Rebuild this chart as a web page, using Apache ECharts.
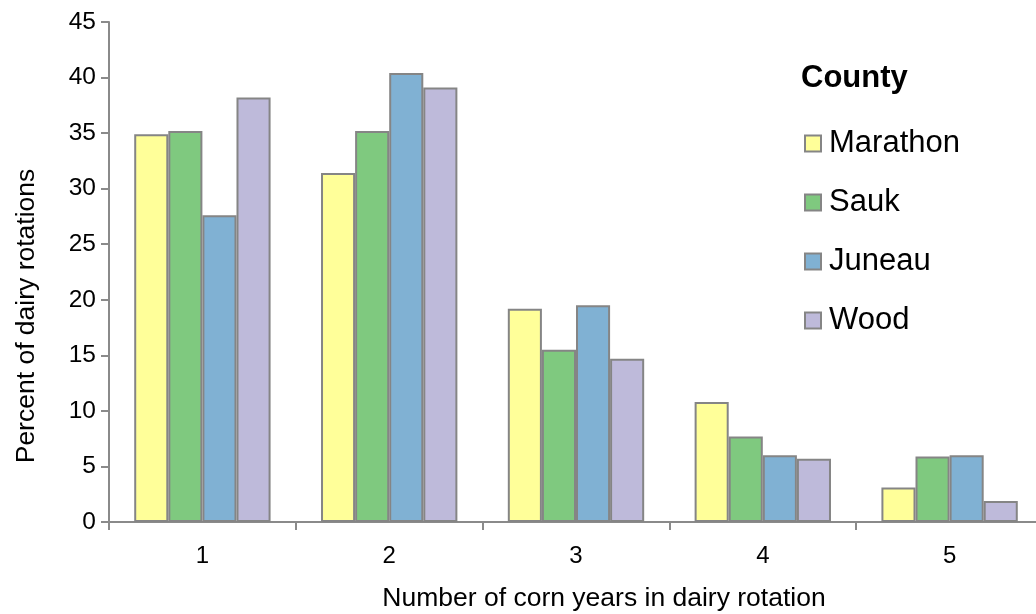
<!DOCTYPE html>
<html>
<head>
<meta charset="utf-8">
<title>Corn years in dairy rotation</title>
<script src="https://cdn.jsdelivr.net/npm/echarts@6/dist/echarts.min.js"></script>
<style>
  html, body { margin: 0; padding: 0; background: #fff; }
  #main { width: 1036px; height: 614px; }
</style>
</head>
<body>
<div id="main"></div>
<script>
// data
var cornYears = ['1', '2', '3', '4', '5'];
var counties = ['Marathon', 'Sauk', 'Juneau', 'Wood'];
var marathon = [34.9, 31.4, 19.2, 10.8, 3.1];
var sauk     = [35.2, 35.2, 15.5, 7.7, 5.9];
var juneau   = [27.6, 40.4, 19.5, 6.0, 6.0];
var wood     = [38.2, 39.1, 14.7, 5.7, 1.9];
var yTicks   = { min: 0, max: 45, interval: 5 };

var colors = ['#FFFF99', '#7FC97F', '#80B1D3', '#BEBADA'];
var values = [marathon, sauk, juneau, wood];
var font = 'Liberation Sans, Arial, sans-serif';

var seriesList = [];
for (var i = 0; i < counties.length; i++) {
	seriesList.push({
		name: counties[i],
		type: 'bar',
		barGap: '0%',
		barCategoryGap: '27%',
		data: values[i],
		itemStyle: {
			color: colors[i],
			borderColor: '#858585',
			borderWidth: 2
		}
	});
}

var option = {
	animation: false,
	textStyle: { fontFamily: font },
	title: {
		text: 'County',
		left: 801,
		top: 63,
		padding: 0,
		textStyle: { fontFamily: font, fontSize: 31, fontWeight: 'bold', color: '#000' }
	},
	legend: {
		orient: 'vertical',
		left: 804,
		top: 128,
		padding: 0,
		itemWidth: 16,
		itemHeight: 16,
		itemGap: 28,
		icon: 'rect',
		data: counties,
		textStyle: { fontFamily: font, fontSize: 31, lineHeight: 31, color: '#000', padding: [0, 0, 0, 3] }
	},
	// the plot runs a little past the right edge, as in the picture
	grid: { left: 109, top: 22, width: 934, height: 500, containLabel: false, outerBoundsMode: 'none' },
	xAxis: {
		type: 'category',
		data: cornYears,
		name: 'Number of corn years in dairy rotation',
		nameLocation: 'middle',
		nameGap: 63,
		// title sits right of the axis middle in the picture
		nameTextStyle: { fontFamily: font, fontSize: 26.5, color: '#000', padding: [0, 0, 0, 56] },
		axisLine: { lineStyle: { color: '#8a8a8a', width: 2 } },
		axisTick: { show: true, length: 8, lineStyle: { color: '#8a8a8a', width: 2 } },
		axisLabel: { fontFamily: font, fontSize: 24, color: '#000', margin: 22 }
	},
	yAxis: {
		type: 'value',
		min: yTicks.min,
		max: yTicks.max,
		interval: yTicks.interval,
		name: 'Percent of dairy rotations',
		nameLocation: 'middle',
		nameGap: 69,
		// and this one sits below the middle
		nameTextStyle: { fontFamily: font, fontSize: 26.5, color: '#000', padding: [0, 88, 0, 0] },
		splitLine: { show: false },
		axisLine: { show: true, lineStyle: { color: '#8a8a8a', width: 2 } },
		axisTick: { show: true, length: 8, lineStyle: { color: '#8a8a8a', width: 2 } },
		axisLabel: { fontFamily: font, fontSize: 24.5, color: '#000', margin: 13 }
	},
	series: seriesList
};

var chart = echarts.init(document.getElementById('main'));
chart.setOption(option);
</script>
</body>
</html>
